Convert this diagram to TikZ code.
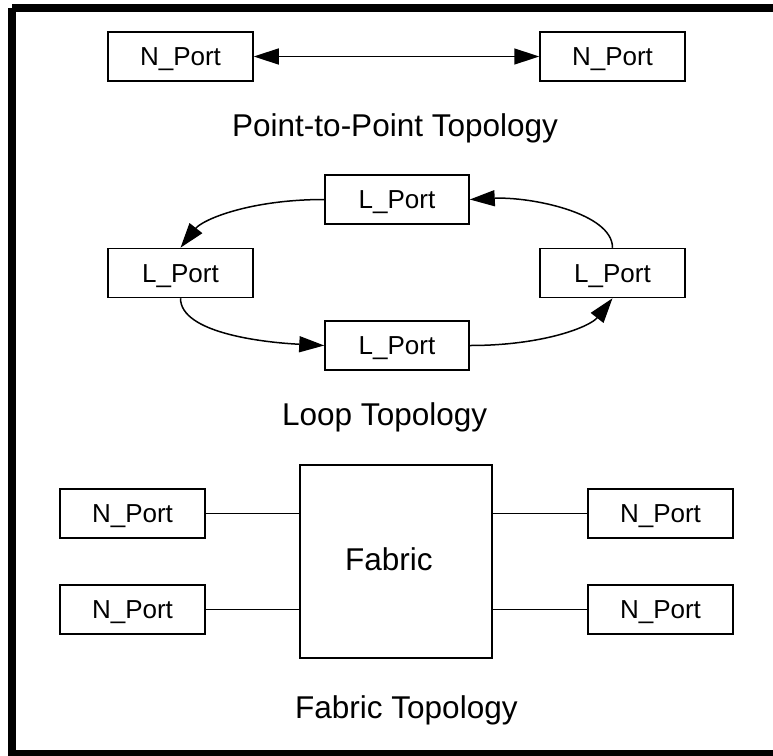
\documentclass[tikz,border=0pt]{standalone}
\usepackage{fontspec}
\setmainfont{Liberation Sans}
\usetikzlibrary{arrows.meta}
\begin{document}
\begin{tikzpicture}[x=1pt,y=-1pt,
  port/.style={draw,line width=1.5pt,minimum width=145pt,minimum height=49pt,inner sep=0pt,
    font=\fontsize{26}{30}\selectfont,text height=18.6pt,text depth=0pt},
  title/.style={anchor=base west,inner sep=0pt,font=\fontsize{31.5}{36}\selectfont},
  link/.style={line width=1.5pt},
  tip/.tip={Triangle[length=25pt,width=16pt]},
  arr/.style={line width=1.5pt,-tip}]
\useasboundingbox (0,0) rectangle (773,755);
% frame
\fill[black] (8,8) rectangle (16,760);
\fill[black] (12,4) rectangle (780,12);
\fill[black] (8,750) rectangle (780,760);
% point-to-point
\node[port] (p1) at (180.5,56.5) {N\_Port};
\node[port] (p2) at (612.5,56.5) {N\_Port};
\draw[link,tip-tip] (p1) -- (p2);
\node[title] (t1) at (232,136.7) {Point-to-Point Topology};
% loop
\node[port,minimum width=144pt] (lt) at (397,199.5) {L\_Port};
\node[port] (ll) at (180.5,273) {L\_Port};
\node[port,minimum width=144pt] (lb) at (397,345.5) {L\_Port};
\node[port] (lr) at (612.5,273) {L\_Port};
\draw[arr] (lt.west) .. controls +(-75,0) and +(22,-28) .. (ll.north);
\draw[arr] (ll.south) .. controls +(0,35) and +(-60,-3) .. (lb.west);
\draw[arr] (lb.east) .. controls +(75,0) and +(-22,28) .. (lr.south);
\draw[arr] (lr.north) .. controls +(0,-35) and +(60,-3) .. (lt.east);
\node[title] (t2) at (282,425) {Loop Topology};
% fabric
\node[draw,line width=1.5pt,minimum width=192pt,minimum height=193pt,inner sep=0pt] (fab) at (396,561.5) {};
\node[title] (fabtxt) at (345,570) {Fabric};
\node[port] (fl1) at (132.5,513.5) {N\_Port};
\node[port] (fl2) at (132.5,609.5) {N\_Port};
\node[port] (fr1) at (660.5,513.5) {N\_Port};
\node[port] (fr2) at (660.5,609.5) {N\_Port};
\draw[link] (fl1.east) -- (fl1.east -| fab.west);
\draw[link] (fl2.east) -- (fl2.east -| fab.west);
\draw[link] (fr1.west) -- (fr1.west -| fab.east);
\draw[link] (fr2.west) -- (fr2.west -| fab.east);
\node[title] (t3) at (295,718) {Fabric Topology};
\end{tikzpicture}
\end{document}
